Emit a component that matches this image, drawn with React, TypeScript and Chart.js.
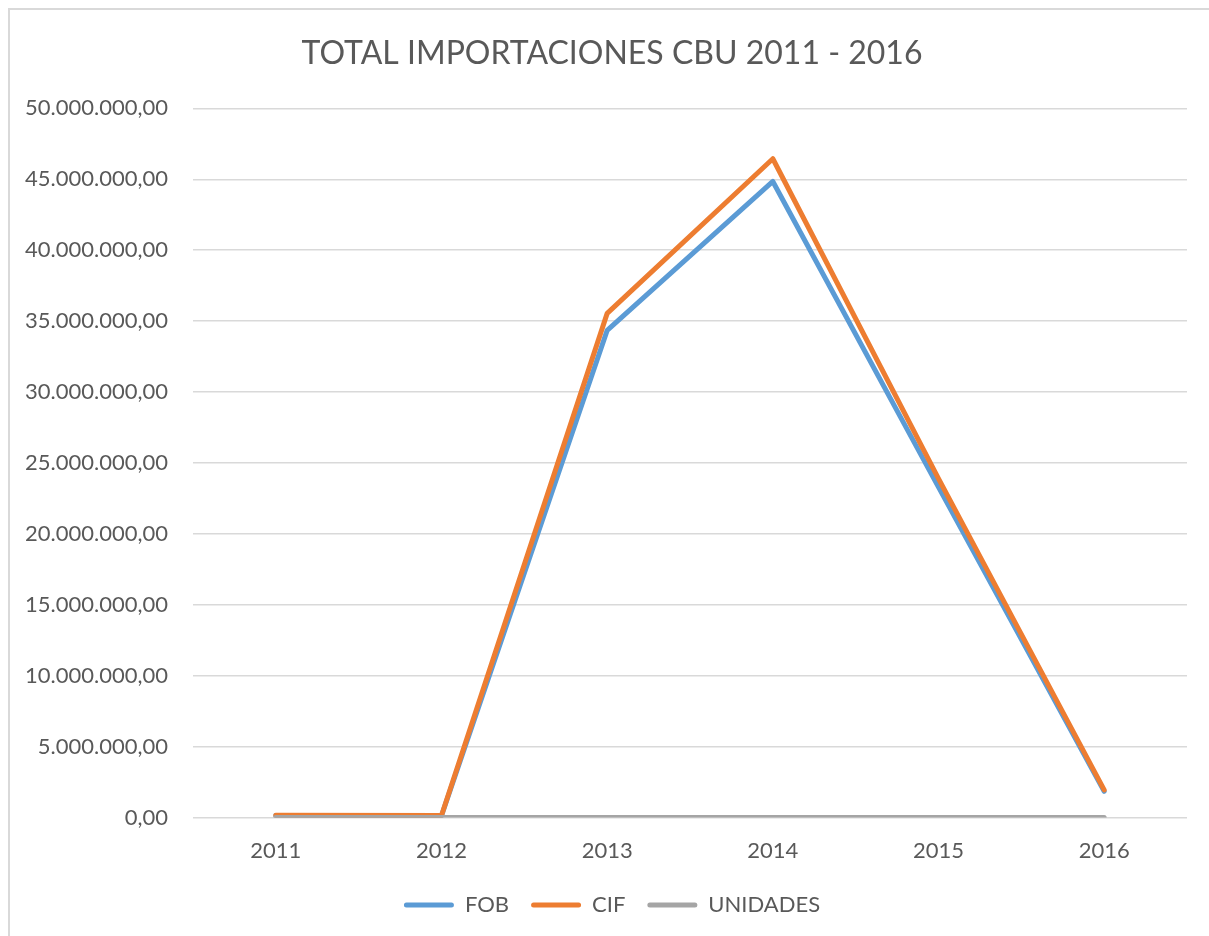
import React, { useEffect, useRef } from "react";
import { Chart, registerables } from "chart.js";

Chart.register(...registerables);

const TITLE = "TOTAL IMPORTACIONES CBU 2011 - 2016";
const years = ["2011", "2012", "2013", "2014", "2015", "2016"];
const fob = [140000, 130000, 34350000, 44850000, 23300000, 1850000];
const cif = [160000, 150000, 35550000, 46450000, 23900000, 1950000];
const unidades = [25, 31, 2100, 2600, 1300, 115];

const BLUE = "#5b9bd5";
const ORANGE = "#ed7d31";
const GRAY = "#a5a5a5";
const TEXT = "#595959";
const GRID = "#d9d9d9";
const FONT = "Lato, 'Open Sans', sans-serif";

function fmt(v: number): string {
  const n = Math.round(Number(v));
  const s = String(Math.abs(n)).replace(/\B(?=(\d{3})+(?!\d))/g, ".");
  return (n < 0 ? "-" : "") + s + ",00";
}

export default function App() {
  const ref = useRef<HTMLCanvasElement | null>(null);
  useEffect(() => {
    document.documentElement.style.overflow = "hidden";
    document.body.style.overflow = "hidden";
    if (!ref.current) return;
    const mk = (label: string, data: number[], color: string, order: number) => ({
      label,
      data,
      borderColor: color,
      backgroundColor: color,
      borderWidth: 5,
      pointRadius: 0,
      pointHoverRadius: 0,
      borderCapStyle: "round" as const,
      borderJoinStyle: "round" as const,
      tension: 0,
      order,
    });
    const chart = new Chart(ref.current, {
      type: "line",
      data: {
        labels: years,
        datasets: [
          mk("FOB", fob, BLUE, 3),
          mk("CIF", cif, ORANGE, 2),
          mk("UNIDADES", unidades, GRAY, 1),
        ],
      },
      options: {
        responsive: false,
        animation: false,
        layout: { padding: { left: 27, right: 11, top: 0, bottom: 10 } },
        plugins: {
          title: {
            display: true,
            text: TITLE,
            color: TEXT,
            font: { family: FONT, size: 32, weight: "normal" },
            padding: { top: 24, bottom: 36 },
          },
          legend: {
            display: true,
            position: "bottom",
            labels: {
              color: TEXT,
              font: { family: FONT, size: 22 },
              boxWidth: 50,
              boxHeight: 5,
              padding: 22,
              useBorderRadius: true,
              borderRadius: 2.5,
              sort: (a: any, b: any) => a.datasetIndex - b.datasetIndex,
              generateLabels: (c: any) =>
                c.data.datasets.map((d: any, i: number) => ({
                  text: d.label,
                  fillStyle: d.borderColor,
                  strokeStyle: d.borderColor,
                  lineWidth: 0,
                  fontColor: TEXT,
                  borderRadius: 2.5,
                  datasetIndex: i,
                  hidden: false,
                })),
            },
          },
          tooltip: { enabled: false },
        },
        scales: {
          x: {
            offset: true,
            grid: { display: false, drawTicks: false },
            border: { display: false },
            ticks: {
              color: TEXT,
              font: { family: FONT, size: 22 },
              padding: 20,
            },
            afterFit: (s: any) => {
              s.height -= 12;
            },
          },
          y: {
            min: 0,
            max: 50000000,
            grid: { color: GRID, lineWidth: 1.5, drawTicks: false },
            border: { display: false },
            ticks: {
              stepSize: 5000000,
              color: TEXT,
              font: { family: FONT, size: 22 },
              padding: 25,
              callback: (v: any) => fmt(v),
            },
            afterFit: (s: any) => {
              s.width = 156;
              s._computeLabelArea = () => undefined;
            },
          },
        },
      },
    });
    return () => chart.destroy();
  }, []);
  return (
    <div
      style={{
        position: "fixed",
        left: 8,
        top: 8,
        width: 1201,
        height: 928,
        boxSizing: "border-box",
        borderTop: "2px solid #d9d9d9",
        borderLeft: "2px solid #d9d9d9",
        background: "#fff",
        overflow: "hidden",
      }}
    >
      <canvas ref={ref} width={1188} height={926} style={{ display: "block" }} />
    </div>
  );
}
